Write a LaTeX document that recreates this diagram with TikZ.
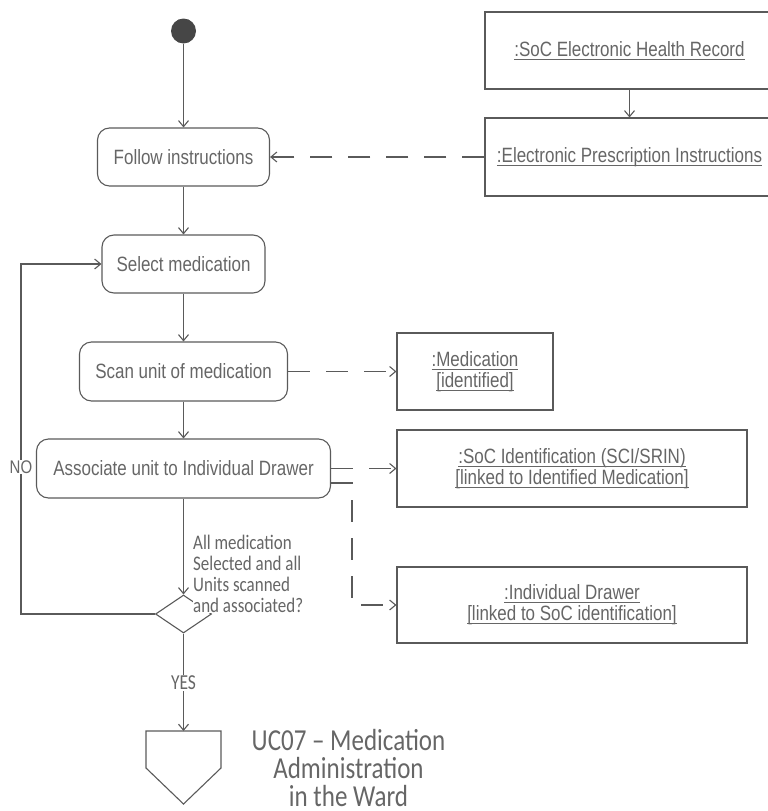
\documentclass[tikz,border=0pt]{standalone}
\usepackage{fontspec}
\setmainfont{Liberation Sans}[FakeStretch=0.82]
\newfontfamily\carlito{Carlito}[FakeStretch=0.82]
\usetikzlibrary{arrows.meta,shapes.geometric}
\definecolor{ln}{HTML}{5A5A5A}
\definecolor{tx}{HTML}{666666}
\definecolor{dotc}{HTML}{464646}
\newcommand\uln[1]{\setbox0\hbox{#1}\rlap{\rule[-3.5pt]{\wd0}{0.9pt}}\box0}
\begin{document}
\begin{tikzpicture}[x=1pt,y=-1pt,
  every node/.style={text=tx},
  act/.style={draw=ln,line width=1.1pt,rounded corners=12pt,inner sep=0pt,font=\fontsize{20.7}{21}\selectfont},
  obj/.style={draw=ln,line width=1.1pt,inner sep=0pt,align=center,font=\fontsize{20.7}{21}\selectfont},
  flow/.style={draw=ln,line width=1.1pt,-{Straight Barb[length=6pt,width=10pt]}},
  dep/.style={flow,dash pattern=on 22pt off 16pt},
  lbl/.style={fill=white,inner sep=1pt,font=\carlito\fontsize{21.3}{21}\selectfont},
  guardtxt/.style={fill=white,inner sep=0pt,align=left,font=\carlito\fontsize{20.7}{21}\selectfont}
]
\useasboundingbox (0,0) rectangle (768,811);

% activity column
\node[circle,fill=dotc,minimum size=25pt,inner sep=0pt] (start) at (183.5,31) {};
\node[act,minimum width=172pt,minimum height=58pt] (follow) at (183.5,157) {Follow instructions};
\node[act,minimum width=163pt,minimum height=58pt] (select) at (183.5,264) {Select medication};
\node[act,minimum width=208pt,minimum height=59pt] (scan) at (183.5,371.5) {Scan unit of medication};
\node[act,minimum width=294pt,minimum height=59pt] (assoc) at (183.5,468.5) {Associate unit to Individual Drawer};
\node[diamond,draw=ln,line width=1.1pt,minimum width=56pt,minimum height=38pt,inner sep=0pt] (dec) at (183.5,614) {};

% object boxes
\node[obj,minimum width=289pt,minimum height=77pt] (ehr) at (629.5,50.5) {\uln{:SoC Electronic Health Record}};
\node[obj,minimum width=289pt,minimum height=78pt] (epi) at (629.5,157) {\uln{:Electronic Prescription Instructions}};
\node[obj,minimum width=156pt,minimum height=77pt] (med) at (475,371.5) {\uln{:Medication}\\\uln{[identified]}};
\node[obj,minimum width=350pt,minimum height=77pt] (soc) at (572,468.5) {\uln{:SoC Identification (SCI/SRIN)}\\\uln{[linked to Identified Medication]}};
\node[obj,minimum width=350pt,minimum height=76pt] (drw) at (572,605) {\uln{:Individual Drawer}\\\uln{[linked to SoC identification]}};

% final signal shape
\coordinate (sig) at (183.5,731);
\draw[draw=ln,line width=1.1pt] (146,731) -- (221,731) -- (221,768) -- (183.5,804) -- (146,768) -- cycle;

% control flow
\draw[flow] (start) -- (follow);
\draw[flow] (follow) -- (select);
\draw[flow] (select) -- (scan);
\draw[flow] (scan) -- (assoc);
\draw[flow] (assoc) -- (dec);
\draw[flow] (dec.west) -- (21,614) |- (select.west);
\draw[flow] (dec.south) -- (sig);
\draw[flow] (ehr) -- (epi);

% object flows
\draw[dep] (epi.west) -- (follow.east);
\draw[dep] (scan.east) -- (med.west);
\draw[dep] (assoc.east) -- (soc.west);
\draw[dep] ([yshift=-14.5pt]assoc.east) -- (352,483) |- (drw.west);

% labels
\node[fill=white,inner sep=1pt,font=\fontsize{18.3}{18}\selectfont] (no) at (21,467) {NO};
\node[lbl] (yes) at (183.5,683) {YES};
\node[guardtxt,anchor=north west] (guard) at (193,535) {All medication\\Selected and all\\Units scanned\\and associated?};
\node[font=\carlito\fontsize{30.5}{28}\selectfont,align=center,anchor=north,inner sep=0pt] (uc) at (348.5,729) {UC07 – Medication\\Administration\\in the Ward};
\end{tikzpicture}
\end{document}
